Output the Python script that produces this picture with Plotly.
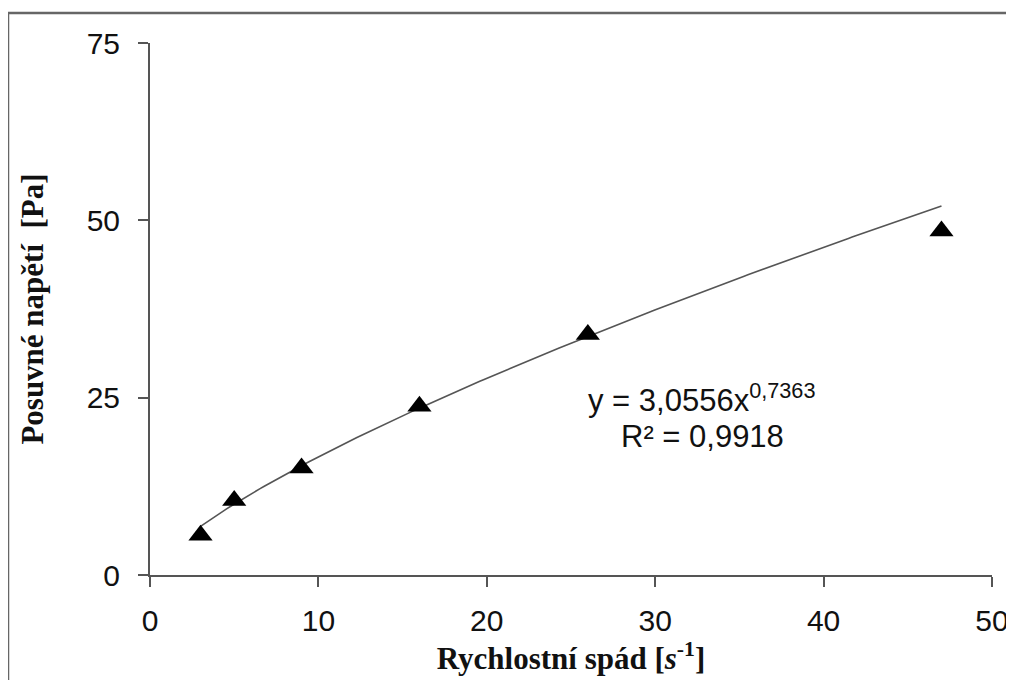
import numpy as np
import plotly.graph_objects as go

# Data
shear_rate = [3, 5, 9, 16, 26, 47]
shear_stress = [5.6, 10.5, 15.1, 23.8, 33.9, 48.5]

# Power-law trendline coefficients shown on the chart
coef_a = 3.0556
coef_b = 0.7363

x_ticks = [0, 10, 20, 30, 40, 50]
y_ticks = [0, 25, 50, 75]

xs = np.linspace(min(shear_rate), max(shear_rate), 200)
ys = coef_a * xs ** coef_b

fig = go.Figure()
fig.add_trace(go.Scatter(x=xs, y=ys, mode="lines",
                         line=dict(color="#555555", width=1.6),
                         hoverinfo="skip", showlegend=False))
fig.add_trace(go.Scatter(x=shear_rate, y=shear_stress, mode="markers",
                         marker=dict(symbol="triangle-up", size=21, color="black"),
                         showlegend=False))

axis_common = dict(showgrid=False, zeroline=False, showline=True, automargin=False,
                   linecolor="#555555", linewidth=2, ticks="outside",
                   ticklen=10, tickwidth=2, tickcolor="#555555",
                   tickfont=dict(family="Liberation Sans, Arial", size=30, color="#111111"))

W, H = 1006, 672
L, R, T, B = 142, 22, 35, 105

fig.update_layout(
    width=W, height=H,
    margin=dict(l=L, r=R, t=T, b=B),
    paper_bgcolor="white", plot_bgcolor="white",
    xaxis=dict(range=[0, 50], tickvals=x_ticks, ticklabelstandoff=8,
               title=dict(text="<b>Rychlostní spád [<i>s</i><sup>-1</sup>]</b>",
                          font=dict(family="Liberation Serif, Times New Roman", size=31, color="#111111"),
                          standoff=4),
               **axis_common),
    yaxis=dict(range=[0, 75], tickvals=y_ticks, ticklabelstandoff=12,
               title=dict(text="<b>Posuvné napětí  [Pa]</b>",
                          font=dict(family="Liberation Serif, Times New Roman", size=31, color="#111111"),
                          standoff=34),
               **axis_common),
    shapes=[dict(type="rect", xref="paper", yref="paper",
                 x0=(0 - L) / (W - L - R), x1=1.2, y0=-0.4,
                 y1=(H - B - 5) / (H - B - T),
                 line=dict(color="#666666", width=2.5), fillcolor="rgba(0,0,0,0)", layer="below")],
    annotations=[
        dict(x=32.8, y=25.0, xref="x", yref="y", showarrow=False,
             text="y = 3,0556x<sup>0,7363</sup>",
             font=dict(family="Liberation Sans, Arial", size=31, color="#111111")),
        dict(x=32.8, y=19.5, xref="x", yref="y", showarrow=False,
             text="R² = 0,9918",
             font=dict(family="Liberation Sans, Arial", size=31, color="#111111")),
    ],
)

fig.write_html("out.html")
